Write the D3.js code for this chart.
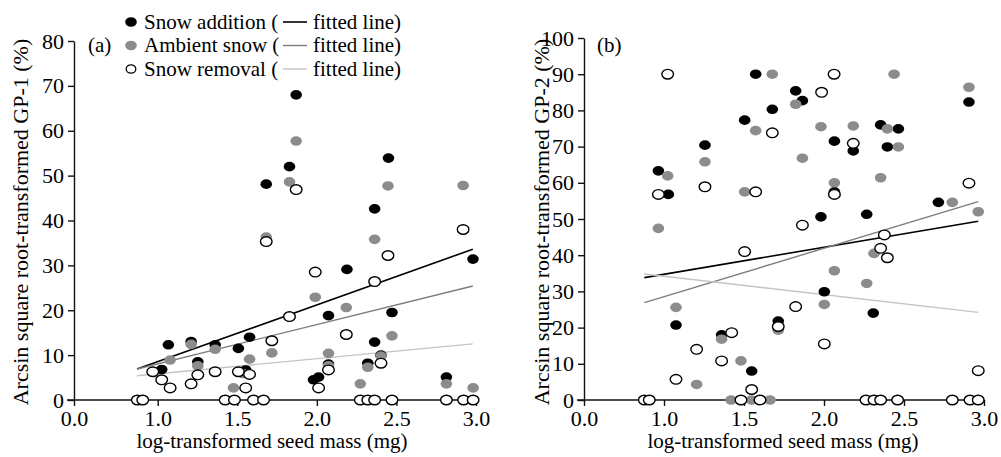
<!DOCTYPE html>
<html>
<head>
<meta charset="utf-8">
<script src="https://cdn.jsdelivr.net/npm/d3@7/dist/d3.min.js"></script>
<style>
  body { margin: 0; background: #fff; }
  svg text { font-family: "Liberation Serif", "Times New Roman", serif; fill: #000; }
</style>
</head>
<body>
<svg id="chart" width="1001" height="457"></svg>
<script>
// ---- axis ticks ----
const xTickValues = [1.0, 1.5, 2.0, 2.5, 3.0];
const yTicksA = [0, 10, 20, 30, 40, 50, 60, 70, 80];
const yTicksB = [0, 10, 20, 30, 40, 50, 60, 70, 80, 90, 100];

// ---- panel (a): GP-1, [log seed mass, transformed GP] ----
const additionA = [
  [1.025, 6.8], [1.067, 12.3], [1.21, 13.0], [1.252, 8.5], [1.361, 12.3],
  [1.507, 11.5], [1.577, 14.0], [1.553, 6.7], [1.717, 13.2], [1.682, 48.1],
  [1.828, 52.0], [1.87, 68.0], [1.979, 4.5], [2.011, 5.1], [2.073, 18.8],
  [2.073, 8.0], [2.189, 29.1], [2.32, 8.2], [2.363, 12.9], [2.363, 42.6],
  [2.403, 10.0], [2.45, 53.9], [2.472, 19.5], [2.814, 5.1], [2.981, 31.4]
];
const ambientA = [
  [1.078, 8.9], [1.21, 12.4], [1.252, 7.6], [1.361, 11.3], [1.476, 2.7],
  [1.535, 5.9], [1.577, 9.1], [1.682, 36.3], [1.717, 10.5], [1.828, 48.6],
  [1.87, 57.7], [1.99, 22.9], [2.073, 10.4], [2.073, 7.6], [2.185, 20.6],
  [2.273, 3.6], [2.32, 7.3], [2.363, 35.8], [2.403, 9.8], [2.447, 47.7],
  [2.472, 14.3], [2.814, 3.6], [2.919, 47.8], [2.982, 2.7]
];
const removalA = [
  [0.872, 0], [0.906, 0], [0.969, 6.3], [1.025, 4.5], [1.078, 2.7],
  [1.21, 3.6], [1.252, 5.6], [1.361, 6.3], [1.424, 0], [1.482, 0],
  [1.507, 6.3], [1.553, 2.7], [1.577, 5.7], [1.602, 0], [1.665, 0],
  [1.682, 35.3], [1.717, 13.2], [1.828, 18.6], [1.87, 46.9], [1.99, 28.5],
  [2.011, 2.7], [2.073, 6.7], [2.185, 14.6], [2.273, 0], [2.32, 0],
  [2.363, 0], [2.363, 26.4], [2.403, 8.2], [2.447, 32.2], [2.472, 0],
  [2.814, 0], [2.919, 38.0], [2.922, 0], [2.982, 0]
];
const fitAdditionA = [[0.87, 6.9], [2.98, 33.6]];
const fitAmbientA = [[0.87, 6.9], [2.98, 25.4]];
const fitRemovalA = [[0.87, 5.4], [2.98, 12.5]];

// ---- panel (b): GP-2 ----
const additionB = [
  [0.965, 63.3], [1.027, 56.8], [1.075, 20.7], [1.256, 70.4], [1.36, 18.0],
  [1.504, 77.3], [1.548, 8.0], [1.573, 90], [1.677, 80.3], [1.714, 21.8],
  [1.823, 85.4], [1.865, 82.7], [1.981, 50.6], [2.002, 29.9], [2.065, 71.5],
  [2.065, 57.5], [2.183, 68.8], [2.267, 51.3], [2.308, 24.0], [2.354, 76.0],
  [2.396, 69.9], [2.465, 74.9], [2.715, 54.6], [2.906, 82.3]
];
const ambientB = [
  [0.965, 47.4], [1.023, 61.9], [1.075, 25.6], [1.204, 4.3], [1.256, 65.8],
  [1.36, 16.8], [1.419, 0], [1.481, 10.8], [1.504, 57.5], [1.548, 0],
  [1.573, 74.4], [1.6625, 0], [1.677, 90], [1.714, 19.3], [1.823, 81.7],
  [1.865, 66.8], [1.981, 75.5], [2.002, 26.4], [2.065, 60.0], [2.065, 35.7],
  [2.183, 75.7], [2.267, 32.2], [2.3125, 40.5], [2.354, 61.4], [2.396, 74.9],
  [2.438, 90], [2.465, 69.9], [2.802, 54.6], [2.906, 86.4], [2.964, 52.0]
];
const removalB = [
  [0.877, 0], [0.908, 0], [0.965, 56.8], [1.023, 90], [1.075, 5.7],
  [1.204, 14.0], [1.256, 58.9], [1.36, 10.8], [1.423, 18.6], [1.481, 0],
  [1.504, 41.0], [1.548, 2.9], [1.573, 57.5], [1.6, 0], [1.677, 73.8],
  [1.714, 20.3], [1.823, 25.8], [1.865, 48.3], [1.985, 85.0], [2.002, 15.5],
  [2.063, 90], [2.065, 56.8], [2.183, 70.9], [2.2625, 0], [2.3125, 0],
  [2.354, 0], [2.354, 41.9], [2.377, 45.6], [2.396, 39.3], [2.46, 0],
  [2.802, 0], [2.906, 59.9], [2.9125, 0], [2.964, 0], [2.964, 8.1]
];
const fitAdditionB = [[0.877, 33.8], [2.964, 49.4]];
const fitAmbientB = [[0.877, 26.9], [2.964, 54.8]];
const fitRemovalB = [[0.877, 34.8], [2.964, 24.2]];

// ---- legend ----
const legendLabels = ["Snow addition (", "Ambient snow (", "Snow removal ("];
const legendTail = "fitted line)";

const colors = { addition: "#000000", ambient: "#8c8c8c", removal: "#ffffff" };
const lineColors = { addition: "#000000", ambient: "#7d7d7d", removal: "#c4c4c4" };

const svg = d3.select("#chart");

function panel(opt) {
  const x = d3.scaleLinear().domain([opt.xStart, 3.0]).range(opt.xRange);
  const y = d3.scaleLinear().domain([0, opt.yMax]).range([400, opt.yTop]);
  const g = svg.append("g");

  // axes
  const xAxis = d3.axisBottom(x)
    .tickValues([opt.xStart].concat(xTickValues))
    .tickFormat(d => d === opt.xStart ? "0.0" : d3.format(".1f")(d))
    .tickSize(6).tickSizeOuter(0).tickPadding(4);
  const gx = g.append("g").attr("transform", "translate(0,400)").call(xAxis);
  const yAxis = d3.axisLeft(y).tickValues(opt.yTicks)
    .tickSize(6).tickSizeOuter(0).tickPadding(4);
  const gy = g.append("g").attr("transform", `translate(${opt.xRange[0]},0)`).call(yAxis);
  [gx, gy].forEach(a => {
    a.selectAll("path, line").attr("stroke", "#111").attr("stroke-width", 1.4);
    a.selectAll("text").style("font-size", "22px")
      .style("font-family", '"Liberation Serif", "Times New Roman", serif');
  });
  // extend x axis line to the left across the y axis
  gx.select(".domain").attr("d", `M${opt.xRange[0] - 7},0H${opt.xRange[1]}`);

  // fitted lines
  const line = d3.line().x(d => x(d[0])).y(d => y(d[1]));
  [["addition", opt.fits.addition, 1.6], ["ambient", opt.fits.ambient, 1.4], ["removal", opt.fits.removal, 1.4]]
    .forEach(([k, pts, w]) => {
      g.append("path").datum(pts).attr("d", line)
        .attr("fill", "none").attr("stroke", lineColors[k]).attr("stroke-width", w);
    });

  // points: addition, then ambient, then removal on top
  const drawPts = (data, fill, stroke) => {
    g.append("g").selectAll("ellipse").data(data).join("ellipse")
      .attr("cx", d => x(d[0])).attr("cy", d => y(d[1]))
      .attr("rx", 5.8).attr("ry", 4.8)
      .attr("fill", fill).attr("stroke", stroke).attr("stroke-width", stroke === "none" ? 0 : 1.4);
  };
  drawPts(opt.addition, colors.addition, "none");
  drawPts(opt.ambient, colors.ambient, "none");
  drawPts(opt.removal, colors.removal, "#000");

  // titles
  g.append("text").attr("x", opt.xTitleX).attr("y", 448)
    .attr("text-anchor", "middle").style("font-size", "21px")
    .text("log-transformed seed mass (mg)");
  g.append("text").attr("transform", `translate(${opt.yTitleX},222) rotate(-90)`)
    .attr("text-anchor", "middle").style("font-size", "22px")
    .text(opt.yTitle);
  g.append("text").attr("x", opt.tagX).attr("y", 52).style("font-size", "21px").text(opt.tag);
}

panel({
  xStart: 0.474, xRange: [74, 476], yMax: 80, yTop: 41, yTicks: yTicksA,
  addition: additionA, ambient: ambientA, removal: removalA,
  fits: { addition: fitAdditionA, ambient: fitAmbientA, removal: fitRemovalA },
  xTitleX: 272, yTitleX: 28, yTitle: "Arcsin square root-transformed GP-1 (%)",
  tag: "(a)", tagX: 88
});
panel({
  xStart: 0.5, xRange: [584, 984], yMax: 100, yTop: 38, yTicks: yTicksB,
  addition: additionB, ambient: ambientB, removal: removalB,
  fits: { addition: fitAdditionB, ambient: fitAmbientB, removal: fitRemovalB },
  xTitleX: 783, yTitleX: 549, yTitle: "Arcsin square root-transformed GP-2 (%)",
  tag: "(b)", tagX: 597
});

// legend
const legend = svg.append("g");
const keys = ["addition", "ambient", "removal"];
keys.forEach((k, i) => {
  const by = 28.5 + i * 23.5;
  legend.append("ellipse").attr("cx", 131).attr("cy", by - 6.5)
    .attr("rx", k === "removal" ? 4.8 : 5.8).attr("ry", k === "removal" ? 4.2 : 4.8)
    .attr("fill", colors[k]).attr("stroke", k === "removal" ? "#000" : "none")
    .attr("stroke-width", 1.3);
  legend.append("text").attr("x", 144).attr("y", by).style("font-size", "21px").text(legendLabels[i]);
  legend.append("line").attr("x1", 283).attr("x2", 307).attr("y1", by - 6.5).attr("y2", by - 6.5)
    .attr("stroke", lineColors[k]).attr("stroke-width", k === "addition" ? 1.6 : 1.4);
  legend.append("text").attr("x", 313).attr("y", by).style("font-size", "21px").text(legendTail);
});
</script>
</body>
</html>
